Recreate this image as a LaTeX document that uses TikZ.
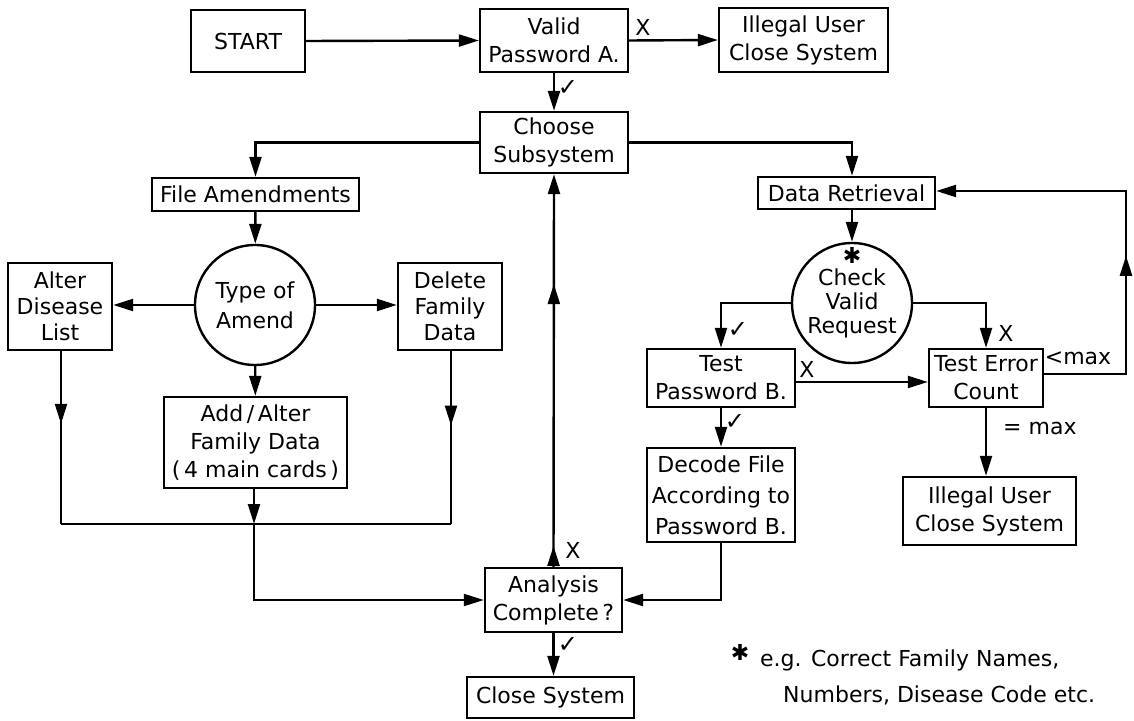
\documentclass[tikz,border=0pt]{standalone}
\usepackage{fontspec}
\setmainfont{DejaVu Sans}
\usetikzlibrary{arrows.meta, shapes.geometric, decorations.markings}
\tikzset{
  every picture/.style={line width=1.2pt},
  >={Triangle[length=10pt, width=6pt]},
  box/.style 2 args={draw, line width=1.2pt, align=center, inner sep=1pt,
    font=\fontsize{11}{14}\selectfont, minimum width=#1, minimum height=#2},
  decision/.style={draw, circle, line width=1.2pt, minimum size=60pt, inner sep=0pt,
    align=center, font=\fontsize{11}{15}\selectfont},
  lbl/.style={inner sep=1pt, font=\fontsize{11}{14}\selectfont},
  chk/.style={inner sep=1pt, font=\fontsize{12}{14}\selectfont\bfseries},
  midarrow/.style={postaction={decorate, decoration={markings,
    mark=at position #1 with {\arrow{>}}}}},
}
\begin{document}
\begin{tikzpicture}[x=0.5pt, y=-0.5pt]
  \useasboundingbox (0,0) rectangle (1134,721);
  \node[box={57pt}{31pt}] (start) at (248,41) {START};
  \node[box={74pt}{31.5pt}] (valid) at (554,40.5) {Valid\\Password A.};
  \node[box={84.5pt}{32pt}] (illegalA) at (803.5,40) {Illegal User\\Close System};
  \node[box={74pt}{30.5pt}] (choose) at (554,142.5) {Choose\\Subsystem};
  \node[box={103.5pt}{16.5pt}] (fileam) at (255.5,194.5) {File Amendments};
  \node[decision] (typeam) at (255,305) {Type of\\Amend};
  \node[box={52pt}{43.5pt}, font=\fontsize{11}{13}\selectfont] (alter) at (60,306.5) {Alter\\Disease\\List};
  \node[box={52pt}{43.5pt}, font=\fontsize{11}{13}\selectfont] (delete) at (450,306.5) {Delete\\Family\\Data};
  \node[box={91.5pt}{45.5pt}] (addalt) at (255.5,442.5) {Add\,/\,Alter\\Family Data\\(\,4 main cards\,)};
  \node[box={68.5pt}{32pt}] (analysis) at (553.5,600) {Analysis\\Complete\,?};
  \node[box={83.5pt}{20.5pt}] (close) at (550.5,697.5) {Close System};
  \node[box={88.5pt}{16pt}] (dataret) at (846.5,193) {Data Retrieval};
  \node[decision, font=\fontsize{11}{12}\selectfont] (check) at (852,303) {Check\\Valid\\Request};
  \node[lbl] (star) at (852,255) {✱};
  \node[box={74pt}{29pt}] (testpw) at (721,378) {Test\\Password B.};
  \node[box={57pt}{29pt}] (testerr) at (986,378) {Test Error\\Count};
  \node[box={74pt}{47pt}, font=\fontsize{11}{15.5}\selectfont] (decode) at (721,495) {Decode File\\According to\\Password B.};
  \node[box={86.5pt}{34pt}] (illegalB) at (989.5,511) {Illegal User\\Close System};

  \coordinate (mL) at (61,524);
  \coordinate (mR) at (451,524);
  \coordinate (mC) at (254,524);
  \coordinate (r1) at (1126,374);
  \coordinate (r2) at (1126,191);

  \draw[->] (start.east) -- (valid.west);
  \draw[->] (valid.east) -- (illegalA.west);
  \draw[->] (valid) -- (choose);
  \draw[->] (choose.west) -| (fileam.north);
  \draw[->] (choose.east) -| (dataret.north -| check.north);
  \draw[->] (fileam) -- (typeam);
  \draw[->] (typeam.west) -- (alter.east |- typeam.west);
  \draw[->] (typeam.east) -- (delete.west |- typeam.east);
  \draw[->] (typeam) -- (addalt);
  \draw[midarrow=0.42] (alter.south -| mL) -- (mL);
  \draw (mL) -- (mR);
  \draw[midarrow=0.43] (delete.south -| mR) -- (mR);
  \draw[->] (addalt.south -| mC) -- (mC);
  \draw[->] (mC) |- (analysis.west);
  \draw[->] (decode.south) |- (analysis.east);
  \draw[->, midarrow=0.053, midarrow=0.72] (analysis.north) -- (choose.south);
  \draw[->] (analysis.south) -- (analysis.south |- close.north);
  \draw[->] (dataret.south -| check.north) -- (check.north);
  \draw[->] (check.west) -| (testpw.north);
  \draw[->] (check.east) -| (testerr.north);
  \draw[->] ([yshift=-2pt]testpw.east) -- ([yshift=-2pt]testerr.west);
  \draw[->] (testpw) -- (decode);
  \draw[->] (testerr.south) -- (testerr.south |- illegalB.north);
  \draw[->, midarrow=0.44] (testerr.east |- r1) -- (r1) -- (r2) -- (dataret.east |- r2);

  \node[lbl] (xA) at (643,27) {X};
  \node[chk] (chkA) at (568,88) {✓};
  \node[chk] (chkT) at (738,330) {✓};
  \node[lbl] (xC) at (1006,333) {X};
  \node[lbl] (xT) at (807,369) {X};
  \node[chk] (chkD) at (735,422) {✓};
  \node[lbl, anchor=west] (eqmax) at (1000,428) {= max};
  \node[lbl] (ltmax) at (1078,358) {<max};
  \node[lbl] (xAn) at (573,550) {X};
  \node[chk] (chkAn) at (568,645) {✓};
  \node[lbl] (nstar) at (740,652) {✱};
  \node[lbl, anchor=west] (note1) at (757,660) {e.g. Correct Family Names,};
  \node[lbl, anchor=west] (note2) at (780,695) {Numbers, Disease Code etc.};
\end{tikzpicture}
\end{document}
